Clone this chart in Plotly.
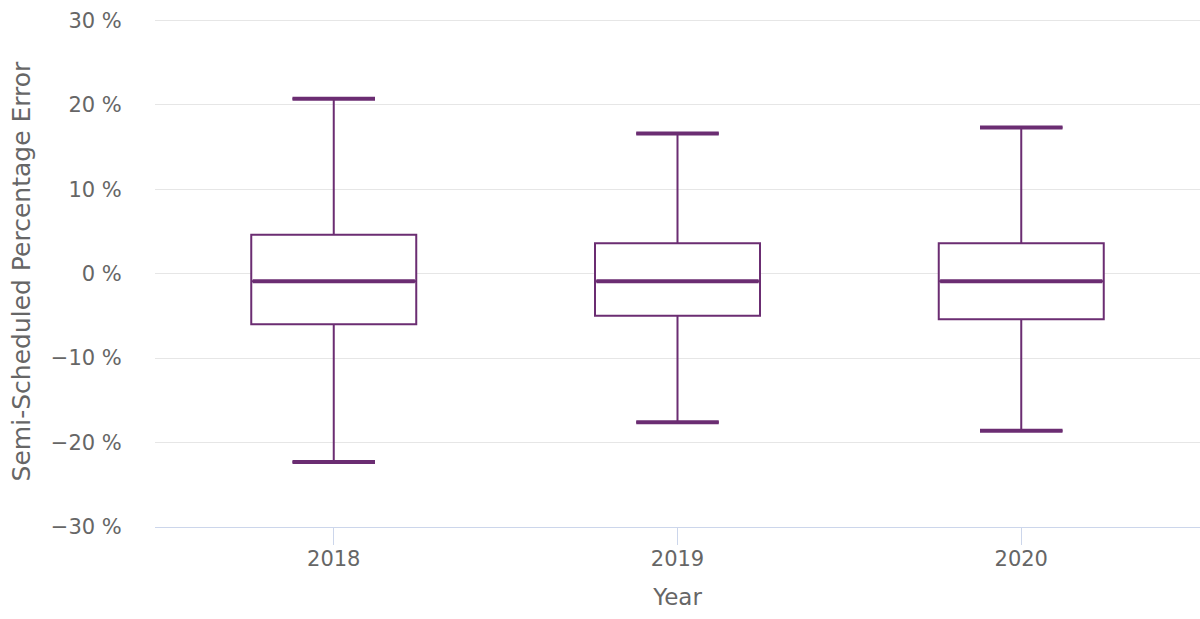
import plotly.graph_objects as go

# Yearly distribution of semi-scheduled forecast percentage error
years = ["2018", "2019", "2020"]
lower_whisker = [-22.3, -17.6, -18.6]
q1 = [-6.0, -5.0, -5.4]
median = [-0.9, -0.9, -0.9]
q3 = [4.6, 3.6, 3.6]
upper_whisker = [20.7, 16.6, 17.3]

y_ticks = [-30, -20, -10, 0, 10, 20, 30]
y_tick_text = [f"{v} %".replace("-", "\u2212") for v in y_ticks]

purple = "#6b2d72"
grey_text = "#666666"
font_family = "DejaVu Sans, Verdana, sans-serif"

positions = list(range(len(years)))
box_width = 0.48
cap_half = 0.12

fig = go.Figure()

fig.add_trace(go.Box(
    x=positions,
    q1=q1,
    median=median,
    q3=q3,
    lowerfence=lower_whisker,
    upperfence=upper_whisker,
    width=box_width,
    whiskerwidth=0.5,
    fillcolor="rgba(255,255,255,1)",
    line=dict(color=purple, width=2),
    boxpoints=False,
    hoverinfo="skip",
    showlegend=False,
))

# Heavier median lines and whisker caps
def seg_xy(values, half):
    xs, ys = [], []
    for p, v in zip(positions, values):
        xs += [p - half, p + half, None]
        ys += [v, v, None]
    return xs, ys

mx, my = seg_xy(median, box_width / 2 - 0.004)
fig.add_trace(go.Scatter(x=mx, y=my, mode="lines",
                         line=dict(color=purple, width=4),
                         hoverinfo="skip", showlegend=False))
for vals in (upper_whisker, lower_whisker):
    cx, cy = seg_xy(vals, cap_half)
    fig.add_trace(go.Scatter(x=cx, y=cy, mode="lines",
                             line=dict(color=purple, width=4),
                             hoverinfo="skip", showlegend=False))

fig.update_layout(
    width=1200,
    height=619,
    margin=dict(l=155, r=0, t=16, b=92),
    paper_bgcolor="white",
    plot_bgcolor="white",
    font=dict(family=font_family, color=grey_text, size=21),
)

fig.update_xaxes(
    range=[-0.52, 2.52],
    tickvals=positions,
    ticktext=years,
    showgrid=False,
    zeroline=False,
    showline=True,
    linecolor="#ccd6eb",
    linewidth=1,
    ticks="outside",
    ticklen=17,
    tickcolor="#ccd6eb",
    ticklabelstandoff=-4,
    tickfont=dict(size=21, color=grey_text),
    title=dict(text="Year", font=dict(size=23, color=grey_text), standoff=18),
)

fig.update_yaxes(
    range=[-30, 30.5],
    tickmode="array",
    tickvals=y_ticks,
    ticktext=y_tick_text,
    showgrid=True,
    gridcolor="#e6e6e6",
    gridwidth=1,
    zeroline=False,
    showline=False,
    ticks="outside",
    ticklen=28,
    tickcolor="rgba(0,0,0,0)",
    tickfont=dict(size=21, color=grey_text),
    title=dict(text="Semi-Scheduled Percentage Error",
               font=dict(size=25, color=grey_text), standoff=13),
)

fig.write_html("out.html")
